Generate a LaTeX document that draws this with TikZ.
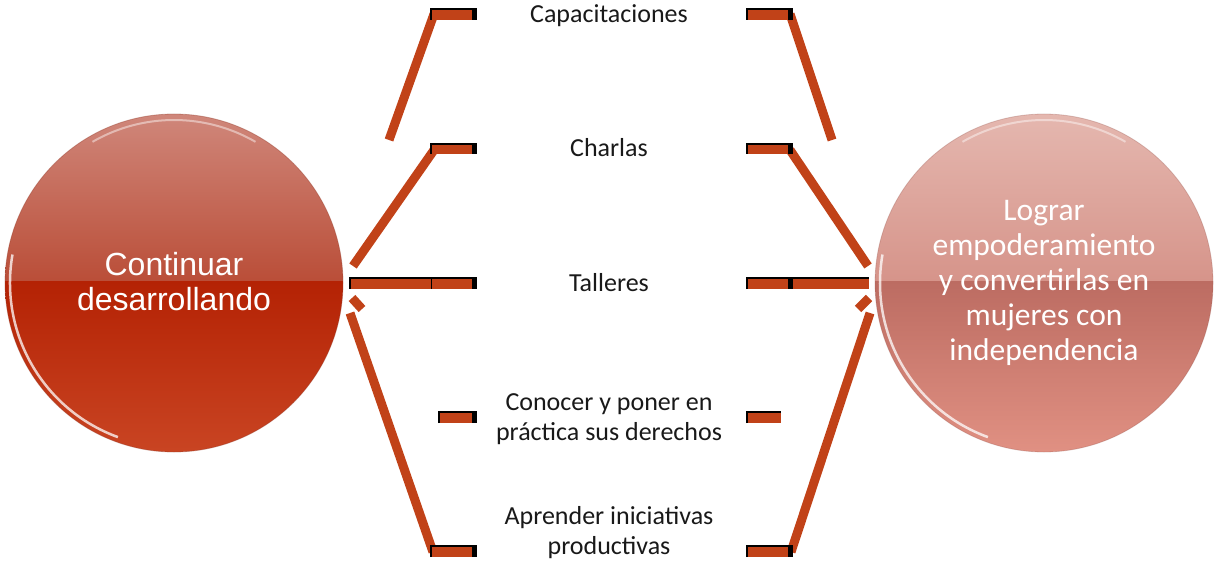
\documentclass[tikz,border=0pt]{standalone}
\usepackage{fontspec}
\setmainfont{Carlito}
\newfontfamily\arialf{Liberation Sans}
\definecolor{barc}{RGB}{193,66,24}
\definecolor{ltop}{RGB}{208,136,124}
\definecolor{lmid}{RGB}{186,78,56}
\definecolor{lsplit}{RGB}{180,34,4}
\definecolor{lbot}{RGB}{202,70,36}
\definecolor{rtop}{RGB}{229,184,176}
\definecolor{rmid}{RGB}{214,148,138}
\definecolor{rsplit}{RGB}{188,108,98}
\definecolor{rbot}{RGB}{226,146,132}
\tikzset{
  diag/.style={draw=barc, line width=9pt, line cap=butt},
  barline/.style={draw=black, line width=1.2pt},
  label/.style={font=\fontsize{26}{30}\selectfont, align=center, text=black!90, inner sep=0pt},
  ctext/.style={text=white, align=center, inner sep=0pt},
  bigc/.style={circle, minimum size=338pt, inner sep=0pt}
}
\begin{document}
\begin{tikzpicture}[x=1pt, y=-1pt]
\useasboundingbox (0,0) rectangle (1214,561);

% circles
\node[bigc] (L) at (174,283) {};
\node[bigc] (R) at (1044,283) {};
\begin{scope}
  \clip (L.center) circle (169);
  \shade[top color=ltop, bottom color=lmid] (0,110) rectangle (350,281);
  \shade[top color=lsplit, bottom color=lbot] (0,281) rectangle (350,460);
\end{scope}
\begin{scope}
  \clip (R.center) circle (169);
  \shade[top color=rtop, bottom color=rmid] (870,110) rectangle (1220,281);
  \shade[top color=rsplit, bottom color=rbot] (870,281) rectangle (1220,460);
\end{scope}
% highlights (y axis flipped: visual angle = -angle)
\draw[white, opacity=0.75, line width=2.5pt] ([shift={(190:164)}]L.center) arc[start angle=190, end angle=110, radius=164];
\draw[white, opacity=0.45, line width=2pt] ([shift={(300:163)}]L.center) arc[start angle=300, end angle=240, radius=163];
\draw[white, opacity=0.75, line width=2.5pt] ([shift={(190:164)}]R.center) arc[start angle=190, end angle=110, radius=164];
\draw[white, opacity=0.45, line width=2pt] ([shift={(300:163)}]R.center) arc[start angle=300, end angle=240, radius=163];
\draw[lmid!80!black, opacity=0.4, line width=0.8pt] (L.center) circle (169);
\draw[rsplit!80!black, opacity=0.3, line width=0.8pt] (R.center) circle (169);

\node[ctext, font=\arialf\fontsize{32}{35}\selectfont] (Lt) at (174,282) {Continuar\\desarrollando};
\node[ctext, font=\fontsize{31.5}{35}\selectfont] (Rt) at (1044,283) {Lograr\\empoderamiento\\y convertirlas en\\mujeres con\\independencia};

% diagonals (left)
\coordinate (la1) at (434,14);  \coordinate (la2) at (389,140);
\coordinate (lb1) at (434,150); \coordinate (lb2) at (353,266);
\coordinate (lf1) at (352,298); \coordinate (lf2) at (362,309);
\coordinate (le1) at (433,552); \coordinate (le2) at (350,313);
\draw[diag] (la1) -- (la2);
\draw[diag] (lb1) -- (lb2);
\draw[diag] (lf1) -- (lf2);
\draw[diag] (le1) -- (le2);
% diagonals (right)
\coordinate (ra1) at (790,14);  \coordinate (ra2) at (832,140);
\coordinate (rb1) at (790,150); \coordinate (rb2) at (868,266);
\coordinate (rf1) at (869,298); \coordinate (rf2) at (858,309);
\coordinate (re1) at (791,552); \coordinate (re2) at (870,313);
\draw[diag] (ra1) -- (ra2);
\draw[diag] (rb1) -- (rb2);
\draw[diag] (rf1) -- (rf2);
\draw[diag] (re1) -- (re2);

% left bars
\foreach \ya/\yb in {9/20,144/154,546/557}{
  \fill[barc] (431,\ya) rectangle (477,\yb);
  \fill[black] (472,\ya) rectangle (477,\yb);
  \draw[barline] (431,\yb) -- (431,\ya) -- (477,\ya);
}
\fill[barc] (350,278) rectangle (477,289);
\fill[black] (472,278) rectangle (477,289);
\draw[barline] (350,289) -- (350,278) -- (477,278);
\draw[black, line width=0.8pt] (431,278) -- (431,289);
\fill[barc] (439,412) rectangle (477,423);
\fill[black] (472,412) rectangle (477,423);
\draw[barline] (439,423) -- (439,412) -- (477,412);

% right bars
\foreach \ya/\yb in {9/20,144/154,546/557}{
  \fill[barc] (747,\ya) rectangle (793,\yb);
  \fill[black] (788,\ya) rectangle (793,\yb);
  \draw[barline] (747,\yb) -- (747,\ya) -- (793,\ya);
}
\fill[barc] (747,278) rectangle (869,289);
\fill[black] (788,278) rectangle (793,289);
\draw[barline] (747,289) -- (747,278) -- (869,278);
\fill[barc] (747,412) rectangle (781,423);
\draw[barline] (747,423) -- (747,412) -- (781,412);

% labels
\node[label, anchor=base] (t1) at (609,23) {Capacitaciones};
\node[label, anchor=base] (t2) at (609,157) {Charlas};
\node[label, anchor=base] (t3) at (609,291) {Talleres};
\node[label] (t4) at (609,419) {Conocer y poner en\\práctica sus derechos};
\node[label] (t5) at (609,533) {Aprender iniciativas\\productivas};
\end{tikzpicture}
\end{document}
